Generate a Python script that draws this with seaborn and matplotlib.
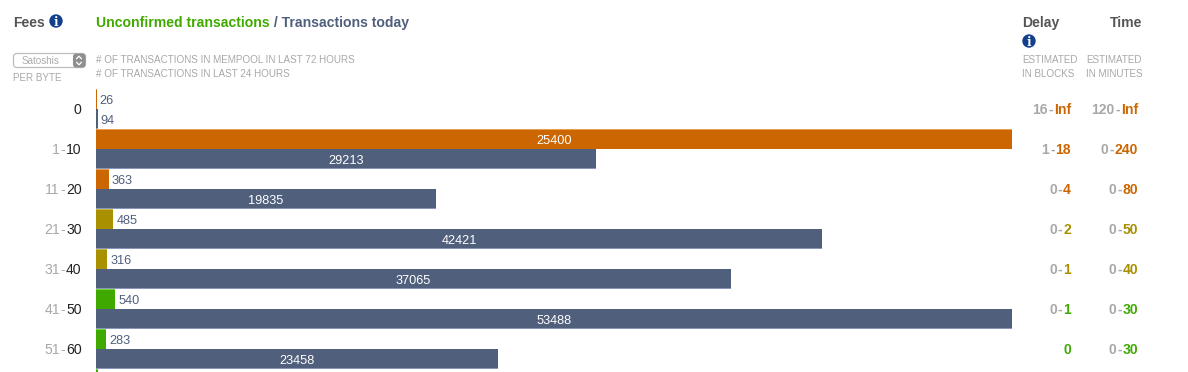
import matplotlib
matplotlib.use('Agg')
import matplotlib.pyplot as plt
import seaborn as sns
import pandas as pd
from matplotlib.lines import Line2D
from matplotlib.patches import Circle, FancyBboxPatch, Rectangle

fee_low = ['', '1', '11', '21', '31', '41', '51']
fee_high = ['0', '10', '20', '30', '40', '50', '60']
unconfirmed = [26, 25400, 363, 485, 316, 540, 283]
today = [94, 29213, 19835, 42421, 37065, 53488, 23458]
# only the top sliver of the next row shows at the bottom edge
next_unconfirmed = 60

delay_low = ['16', '1', '0', '0', '0', '0', '']
delay_high = ['Inf', '18', '4', '2', '1', '1', '0']
time_low = ['120', '0', '0', '0', '0', '0', '0']
time_high = ['Inf', '240', '80', '50', '40', '30', '30']

ORANGE = '#cc6600'
OLIVE = '#a89000'
GREEN = '#3fa900'
SLATE = '#505f7c'
GREY = '#a8a8a8'
row_colors = [ORANGE, ORANGE, ORANGE, OLIVE, OLIVE, GREEN, GREEN]
edge_colors = {ORANGE: '#e8a050', OLIVE: '#c8b440', GREEN: '#70d830', SLATE: '#8896b8'}

W, H = 1188, 372
sns.set_theme(style='white')
plt.rcParams['font.family'] = ['Liberation Sans', 'DejaVu Sans']

fig = plt.figure(figsize=(W / 100, H / 100), dpi=100, facecolor='white')


def px_text(x, y, s, size=9.85, color=GREY, ha='left', weight='normal', family=None):
    # y is the text baseline in pixels from the top
    t = fig.text(x / W, 1 - y / H, s, fontsize=size * 0.72, color=color, ha=ha,
                 va='baseline', fontweight=weight)
    if family:
        t.set_family(family)
    return t


def range_right(x, y, low, high, color, weight='normal'):
    # low-high in two colors, set right to left so the range ends at x
    renderer = fig.canvas.get_renderer()
    parts = [(high, color)]
    if low:
        parts += [('-', GREY), (low, GREY)]
    for s, c in parts:
        t = px_text(x, y, s, size=14, color=c, ha='right', weight=weight)
        x -= t.get_window_extent(renderer).width + 0.8


def info_icon(x, y):
    fig.add_artist(Circle((x, H - y), 6.7, transform=None, facecolor='#12408c', edgecolor='none'))
    px_text(x, y + 4.5, 'i', size=12, color='white', ha='center', weight='bold', family='DejaVu Serif')


# bar rows, each fee band has an unconfirmed row and a today row
rows = []
for i in range(len(fee_high)):
    rows += [f'u{i}', f't{i}']
rows.append('u7')

df_u = pd.DataFrame({'row': [f'u{i}' for i in range(len(unconfirmed) + 1)],
                     'count': unconfirmed + [next_unconfirmed]})
df_t = pd.DataFrame({'row': [f't{i}' for i in range(len(today))], 'count': today})
pal_u = dict(zip(df_u['row'], row_colors + [GREEN]))
pal_t = {r: SLATE for r in df_t['row']}

rect = [96 / W, 0, 916 / W, 283 / H]
ax_u = fig.add_axes(rect)
ax_t = fig.add_axes(rect)
ax_t.patch.set_alpha(0)

sns.barplot(data=df_u, y='row', x='count', hue='row', order=rows, palette=pal_u, width=1,
            dodge=False, saturation=1, legend=False, linewidth=0, edgecolor='none', ax=ax_u)
sns.barplot(data=df_t, y='row', x='count', hue='row', order=rows, palette=pal_t, width=1,
            dodge=False, saturation=1, legend=False, linewidth=0, edgecolor='none', ax=ax_t)

# each series has its own scale, its biggest value fills the width
ax_u.set_xlim(0, max(unconfirmed))
ax_t.set_xlim(0, max(today))

row_h = 283 / 20
for ax, at_top in ((ax_u, True), (ax_t, False)):
    ax.set_ylim(row_h - 0.5, -0.5)
    ax.axis('off')
    for c in ax.containers:
        v = c.datavalues[0]
        # 1px lighter rim along one long side of each bar
        bar = c.patches[0]
        y_rim = bar.get_y() if at_top else bar.get_y() + bar.get_height() - 0.05
        rim = matplotlib.colors.to_hex(bar.get_facecolor())
        ax.add_patch(Rectangle((bar.get_x(), y_rim), bar.get_width(), 0.05, linewidth=0,
                               facecolor=edge_colors[rim]))
        if v == next_unconfirmed:
            continue
        if v > 5000:
            labels = ax.bar_label(c, labels=[str(int(v))], label_type='center', color='white',
                                  fontsize=9.2)
        else:
            labels = ax.bar_label(c, labels=[str(int(v))], label_type='edge', padding=2,
                                  color=SLATE, fontsize=9.2)
        for t in labels:
            t.xyann = (t.xyann[0], t.xyann[1] - 1.2)

# headers
px_text(13, 27, 'Fees', size=14, color='#555555', weight='bold')
info_icon(56, 21)
t = px_text(96, 27, 'Unconfirmed transactions', size=14, color=GREEN, weight='bold')
x_next = 96 + t.get_window_extent(fig.canvas.get_renderer()).width
px_text(x_next, 27, ' / Transactions today', size=14, color=SLATE, weight='bold')
px_text(96, 63, '# OF TRANSACTIONS IN MEMPOOL IN LAST 72 HOURS')
px_text(96, 77, '# OF TRANSACTIONS IN LAST 24 HOURS')
px_text(13, 81, 'PER BYTE')
px_text(1022, 27, 'Delay', size=14, color='#555555', weight='bold')
info_icon(1029, 41)
px_text(1142, 27, 'Time', size=14, color='#555555', weight='bold', ha='right')
px_text(1022, 63, 'ESTIMATED')
px_text(1022, 77, 'IN BLOCKS')
px_text(1086, 63, 'ESTIMATED')
px_text(1086, 77, 'IN MINUTES')

# units selector
fig.add_artist(FancyBboxPatch((13.5, H - 67.5), 72, 14, boxstyle='round,pad=0,rounding_size=3.5',
                              transform=None, facecolor='white', edgecolor='#bdbdbd', lw=0.9))
fig.add_artist(FancyBboxPatch((73, H - 67.5), 12.5, 14, boxstyle='round,pad=0,rounding_size=3',
                              transform=None, facecolor='#8f8f8f', edgecolor='none'))
px_text(41, 64, 'Satoshis', color='#aaaaaa', ha='center')
for dy, sign in ((57.5, 1), (63.5, -1)):
    fig.add_artist(Line2D([76.5, 79, 81.5], [H - dy - sign * 1.3, H - dy + sign * 1.3, H - dy - sign * 1.3],
                          transform=None, color='white', lw=0.9))

# row labels and estimates
for i in range(len(fee_high)):
    y = 114 + 40 * i
    c = row_colors[i]
    range_right(81.5, y, fee_low[i], fee_high[i], '#222222')
    range_right(1071, y, delay_low[i], delay_high[i], c, weight='bold')
    range_right(1138, y, time_low[i], time_high[i], c, weight='bold')

fig.savefig('out.png', dpi=100)
